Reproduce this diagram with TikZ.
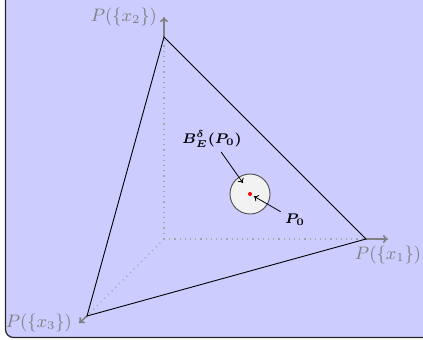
\documentclass[tikz,border=0pt]{standalone}
\usepackage{bm}
\usetikzlibrary{arrows.meta}
\begin{document}
\begin{tikzpicture}[x=0.5pt,y=-0.5pt,font=\small,
  axisline/.style={gray,line width=0.8pt,-{To[length=2.5pt,width=4pt]}},
  axislabel/.style={text=gray},
  hidden/.style={gray!70,dotted,line width=0.6pt},
  edge/.style={black,line width=0.45pt},
  tag/.style={font=\scriptsize,inner sep=2pt},
  pointer/.style={black,line width=0.4pt,-{To[length=2.2pt,width=3.5pt]}}]
\useasboundingbox (0,0) rectangle (423,339);
\filldraw[fill=blue!20,draw=black!85,line width=0.6pt,rounded corners=4pt] (5.5,337.5) rectangle (450,-30);
% vertices
\coordinate (O) at (164,239);
\coordinate (A) at (164,37);
\coordinate (B) at (366,239);
\coordinate (C) at (87,316);
\coordinate (A2) at (164,17);
\coordinate (B2) at (388,239);
\coordinate (C2) at (79,323);
% hidden axes
\draw[hidden] (O) -- (A);
\draw[hidden] (O) -- (B);
\draw[hidden] (O) -- (C);
% axis arrows
\draw[axisline] (A) -- (A2);
\draw[axisline] (B) -- (B2);
\draw[axisline] (C) -- (C2);
\node[axislabel,anchor=east] (LA) at (A2) {$P(\{x_2\})$};
\node[axislabel,anchor=north] (LB) at (B2) {$P(\{x_1\})$};
\node[axislabel,anchor=east] (LC) at (C2) {$P(\{x_3\})$};
% simplex
\draw[edge] (A) -- (B) -- (C) -- cycle;
% ball
\node[circle,draw=black!70,fill=gray!10,line width=0.45pt,minimum size=20pt,inner sep=0pt] (ball) at (250,194) {};
\node[circle,fill=red,inner sep=0pt,minimum size=2pt] (dot) at (250,194) {};
\node[tag] (Blab) at (212,139) {$\bm{B^{\delta}_{E}(P_0)}$};
\node[tag] (Plab) at (295,220) {$\bm{P_0}$};
\coordinate (bt) at (243,183);
\draw[pointer] (Blab) -- (bt);
\draw[pointer,shorten >=1pt] (Plab) -- (dot);
\end{tikzpicture}
\end{document}
